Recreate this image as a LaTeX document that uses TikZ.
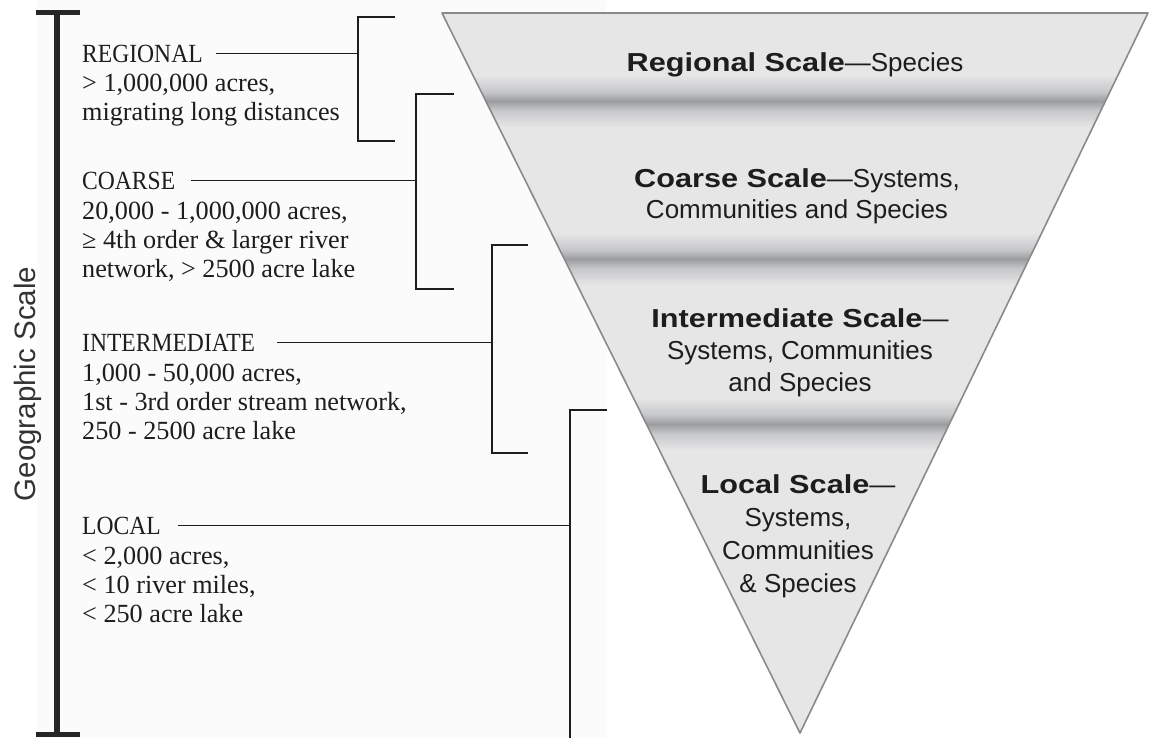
\documentclass[tikz,border=0pt]{standalone}
\usepackage{fontspec}
\setmainfont{Liberation Serif}
\newfontfamily\capsfont{Liberation Serif}[FakeStretch=0.9]
\newfontfamily\trisans{Liberation Sans}
\newfontfamily\tribold{Liberation Sans}[FakeStretch=1.18]
\definecolor{trifill}{HTML}{E6E6E7}
\definecolor{band}{HTML}{9C9DA0}
\definecolor{bandmid}{HTML}{C4C5C7}
\definecolor{triedge}{HTML}{8A8A8A}
\definecolor{ink}{HTML}{1E1C1D}
\definecolor{panel}{HTML}{FBFBFB}
\begin{document}
\begin{tikzpicture}[x=1pt,y=-1pt,
  lab/.style={anchor=base west, inner sep=0pt, font=\fontsize{26.2}{29}\selectfont, text=ink},
  head/.style={anchor=south west, inner sep=0pt, text height=19pt, text depth=0pt, font=\capsfont\fontsize{26.2}{29}\selectfont, text=ink},
  tri/.style={anchor=base, inner sep=0pt, font=\trisans\fontsize{26}{30}\selectfont, text=ink},
  conn/.style={draw=ink, line width=1.1pt},
  bracket/.style={draw=ink, line width=1.1pt},
  scalebar/.style={draw=black!85, line width=6pt},
  scaletick/.style={draw=black!85, line width=5pt}
]
\useasboundingbox (0,0) rectangle (1150,738);
\fill[panel] (37,0) rectangle (606,738);

% scale bar
\draw[scalebar] (57,12) -- (57,734);
\draw[scaletick] (36,12.5) -- (80,12.5);
\draw[scaletick] (36,734) -- (80,734);
\node[rotate=90, anchor=base, inner sep=0pt, font=\trisans\fontsize{29.5}{30}\selectfont, text=black!80] (geo) at (35,384) {Geographic Scale};

% inverted triangle
\coordinate (tl) at (442,13);
\coordinate (tr) at (1148,13);
\coordinate (ap) at (800,733);
\begin{scope}
  \clip (tl) -- (tr) -- (ap) -- cycle;
  \fill[trifill] (tl) -- (tr) -- (ap) -- cycle;
  \foreach \yc in {101,259,424} {
    \shade[top color=trifill, bottom color=bandmid] (430,\yc-26) rectangle (1150,\yc-8);
    \fill[bandmid] (430,\yc-8.2) rectangle (1150,\yc+8.2);
    \shade[top color=bandmid, bottom color=trifill] (430,\yc+8) rectangle (1150,\yc+26);
    \shade[top color=bandmid, bottom color=bandmid, middle color=band] (430,\yc-9) rectangle (1150,\yc+9);
  }
\end{scope}
\draw[triedge, line width=1.6pt, line join=round] (tl) -- (tr) -- (ap) -- cycle;

% triangle texts
\node[tri] (t1) at (795,72) {{\tribold\bfseries Regional Scale}—Species};
\node[tri] (t2a) at (797,187) {{\tribold\bfseries Coarse Scale}—Systems,};
\node[tri] (t2b) at (797,218) {Communities and Species};
\node[tri] (t3a) at (800,327) {{\tribold\bfseries Intermediate Scale}—};
\node[tri] (t3b) at (800,359) {Systems, Communities};
\node[tri] (t3c) at (800,391) {and Species};
\node[tri] (t4a) at (798,493) {{\tribold\bfseries Local Scale}—};
\node[tri] (t4b) at (798,526) {Systems,};
\node[tri] (t4c) at (798,559) {Communities};
\node[tri] (t4d) at (798,592) {\& Species};

% left labels
\node[head] (regH) at (82,63) {REGIONAL};
\node[lab] (reg1) at (82,92) {> 1,000,000 acres,};
\node[lab] (reg2) at (82,121) {migrating long distances};

\node[head] (coaH) at (82,190) {COARSE};
\node[lab] (coa1) at (82,219) {20,000 - 1,000,000 acres,};
\node[lab] (coa2) at (82,248) {≥ 4th order \& larger river};
\node[lab] (coa3) at (82,277) {network, > 2500 acre lake};

\node[head] (intH) at (82,352) {INTERMEDIATE};
\node[lab] (int1) at (82,381) {1,000 - 50,000 acres,};
\node[lab] (int2) at (82,410) {1st - 3rd order stream network,};
\node[lab] (int3) at (82,439) {250 - 2500 acre lake};

\node[head] (locH) at (82,535) {LOCAL};
\node[lab] (loc1) at (82,564) {< 2,000 acres,};
\node[lab] (loc2) at (82,593) {< 10 river miles,};
\node[lab] (loc3) at (82,622) {< 250 acre lake};

% brackets
\coordinate (rbT) at (395,17);  \coordinate (rbV) at (358,0); \coordinate (rbB) at (395,141);
\coordinate (cbT) at (454,94);  \coordinate (cbV) at (416,0); \coordinate (cbB) at (454,289);
\coordinate (ibT) at (528,245); \coordinate (ibV) at (492,0); \coordinate (ibB) at (528,453);
\coordinate (lbT) at (607,410); \coordinate (lbV) at (570,0); \coordinate (lbB) at (570,738);

\draw[bracket] (rbT) -- (rbT -| rbV) -- (rbB -| rbV) -- (rbB);
\draw[bracket] (cbT) -- (cbT -| cbV) -- (cbB -| cbV) -- (cbB);
\draw[bracket] (ibT) -- (ibT -| ibV) -- (ibB -| ibV) -- (ibB);
\draw[bracket] (lbT) -- (lbT -| lbV) -- (lbB);

% connector start points (free ends)
\coordinate (regS) at (216,0);
\coordinate (coaS) at (191,0);
\coordinate (intS) at (277,0);
\coordinate (locS) at (178,0);

% connectors
\draw[conn] (regH.east -| regS) -- (regH.east -| rbV);
\draw[conn] (coaH.east -| coaS) -- (coaH.east -| cbV);
\draw[conn] (intH.east -| intS) -- (intH.east -| ibV);
\draw[conn] (locH.east -| locS) -- (locH.east -| lbV);
\end{tikzpicture}
\end{document}
